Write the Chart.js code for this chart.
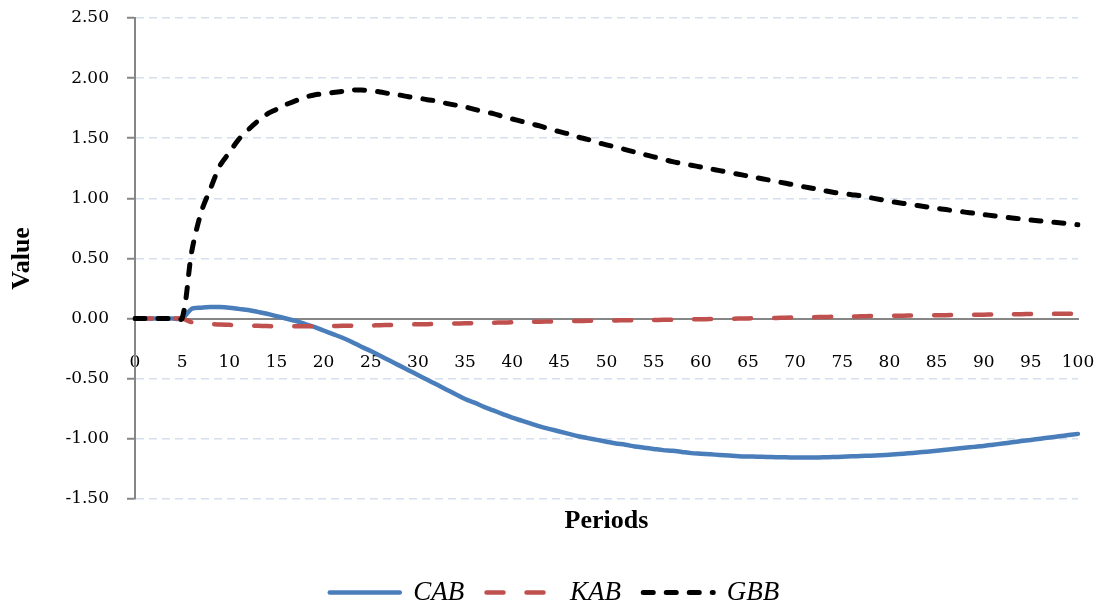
<!DOCTYPE html>
<html>
<head>
<meta charset="utf-8">
<script src="https://cdn.jsdelivr.net/npm/chart.js@4/dist/chart.umd.min.js"></script>
<style>
  html, body { margin:0; padding:0; background:#fff; }
  #wrap { width:1101px; height:601px; }
</style>
</head>
<body>
<div id="wrap"><canvas id="chart" width="1101" height="601"></canvas></div>
<script>
// periods 0..100
const periods = Array.from({length:101}, (_, i) => i);

const cab = [
  0, 0, 0, 0, 0, 0, 0.08, 0.09, 0.095, 0.095,
  0.09, 0.08, 0.07, 0.055, 0.04, 0.02, 0.00, -0.02, -0.045, -0.07,
  -0.10, -0.13, -0.16, -0.195, -0.235, -0.27, -0.31, -0.35, -0.39, -0.43,
  -0.47, -0.51, -0.55, -0.59, -0.63, -0.67, -0.70, -0.735, -0.765, -0.795,
  -0.825, -0.85, -0.875, -0.90, -0.92, -0.94, -0.96, -0.98, -0.995, -1.01,
  -1.025, -1.04, -1.05, -1.065, -1.075, -1.085, -1.095, -1.10, -1.11, -1.12,
  -1.125, -1.13, -1.135, -1.14, -1.145, -1.148, -1.15, -1.152, -1.154, -1.155,
  -1.156, -1.156, -1.156, -1.155, -1.153, -1.15, -1.147, -1.144, -1.141, -1.138,
  -1.134, -1.128, -1.122, -1.115, -1.108, -1.10, -1.092, -1.084, -1.076, -1.068,
  -1.06, -1.05, -1.04, -1.03, -1.02, -1.01, -1.00, -0.99, -0.98, -0.97,
  -0.96
];
const kab = [
  0, 0, 0, 0, 0, 0, -0.03, -0.04, -0.045, -0.05,
  -0.053, -0.056, -0.059, -0.061, -0.063, -0.064, -0.065, -0.065, -0.065, -0.064,
  -0.063, -0.062, -0.061, -0.06, -0.059, -0.058, -0.056, -0.054, -0.052, -0.05,
  -0.048, -0.047, -0.045, -0.043, -0.042, -0.04, -0.038, -0.037, -0.035, -0.033,
  -0.032, -0.03, -0.028, -0.027, -0.025, -0.024, -0.022, -0.021, -0.019, -0.018,
  -0.017, -0.016, -0.015, -0.014, -0.013, -0.012, -0.011, -0.01, -0.009, -0.007,
  -0.006, -0.005, -0.003, -0.002, -0.001, 0.001, 0.002, 0.004, 0.005, 0.007,
  0.008, 0.01, 0.011, 0.013, 0.014, 0.016, 0.017, 0.018, 0.02, 0.021,
  0.022, 0.023, 0.024, 0.025, 0.026, 0.027, 0.028, 0.029, 0.03, 0.031,
  0.032, 0.033, 0.034, 0.035, 0.036, 0.037, 0.037, 0.038, 0.039, 0.039,
  0.04
];
const gbb = [
  0, 0, 0, 0, 0, 0, 0.55, 0.88, 1.08, 1.27,
  1.38, 1.49, 1.57, 1.64, 1.70, 1.74, 1.78, 1.81, 1.84, 1.86,
  1.87, 1.88, 1.89, 1.90, 1.90, 1.895, 1.885, 1.87, 1.86, 1.845,
  1.835, 1.82, 1.81, 1.79, 1.775, 1.76, 1.74, 1.72, 1.705, 1.68,
  1.66, 1.64, 1.62, 1.60, 1.575, 1.555, 1.535, 1.51, 1.49, 1.465,
  1.445, 1.425, 1.405, 1.385, 1.365, 1.345, 1.325, 1.305, 1.29, 1.275,
  1.26, 1.245, 1.23, 1.215, 1.20, 1.185, 1.17, 1.155, 1.14, 1.125,
  1.11, 1.095, 1.08, 1.065, 1.05, 1.04, 1.03, 1.02, 1.005, 0.99,
  0.975, 0.963, 0.951, 0.94, 0.928, 0.917, 0.906, 0.895, 0.885, 0.875,
  0.865, 0.855, 0.846, 0.837, 0.828, 0.82, 0.812, 0.804, 0.796, 0.788,
  0.78
];
const yTicks = { min: -1.5, max: 2.5, step: 0.5 };

const tickFont = { family: 'DejaVu Serif', size: 17 };
const grey = '#868686';

new Chart(document.getElementById('chart').getContext('2d'), {
  type: 'line',
  data: {
    labels: periods,
    datasets: [
      { label:'CAB', data:cab, borderColor:'#4a7ebb', backgroundColor:'#4a7ebb', borderWidth:4.5,
        borderCapStyle:'round', pointRadius:0, pointStyle:'line', tension:0.3, order:3 },
      { label:'KAB', data:kab, borderColor:'#c0504d', backgroundColor:'#c0504d', borderWidth:4.5,
        borderDash:[17,23], borderCapStyle:'round', pointRadius:0, pointStyle:'line', tension:0.3, order:2 },
      { label:'GBB', data:gbb, borderColor:'#000000', backgroundColor:'#000000', borderWidth:5,
        borderDash:[10,13], borderCapStyle:'round', pointRadius:0, pointStyle:'line', tension:0.3, order:1 }
    ]
  },
  options: {
    responsive:false, animation:false,
    layout:{ padding:{ top:18, left:31, right:23, bottom:-15 } },
    plugins:{
      tooltip:{ enabled:false },
      title:{ display:true, text:'Periods', position:'bottom', weight:500, fullSize:false, color:'#000',
        font:{ family:'Liberation Serif', size:26, weight:'bold' }, padding:{ top:7, bottom:40 } },
      legend:{ position:'bottom',
        labels:{ usePointStyle:true, pointStyle:'line', pointStyleWidth:70, boxHeight:24, padding:2, color:'#000',
          font:{ family:'Liberation Serif', size:27, style:'italic' },
          generateLabels: chart => {
            const items = Chart.defaults.plugins.legend.labels.generateLabels(chart);
            const last = chart.data.datasets.length - 1;
            items.forEach(it => {
              const ds = chart.data.datasets[it.datasetIndex];
              it.lineDash = ds.borderDash || [];
              it.lineWidth = ds.borderWidth;
              it.lineCap = 'round';
              it.strokeStyle = ds.borderColor;
              it.text = it.datasetIndex === last ? ds.label : ds.label + '   ';
            });
            return items;
          },
          sort:(a,b)=>a.datasetIndex-b.datasetIndex } }
    },
    scales:{
      x:{ type:'category', position:{ y:0 },
        grid:{ display:false },
        border:{ display:true, color:grey, width:2 },
        ticks:{ autoSkip:false, maxRotation:0, padding:26, color:'#000', font:tickFont,
          callback:(v,i)=> i % 5 === 0 ? String(periods[i]) : '' },
        afterFit:s => { s.paddingLeft = 0; s.paddingRight = 0; s.paddingTop = 0; s.paddingBottom = 0; } },
      y:{ min:yTicks.min, max:yTicks.max,
        ticks:{ stepSize:yTicks.step, padding:18, color:'#000', font:tickFont,
          callback:v => v.toFixed(2) },
        grid:{ color:'#d5dfee', lineWidth:1.5, tickColor:grey, tickLength:8, tickWidth:2, tickBorderDash:[] },
        border:{ dash:[8,5], color:grey, width:2 },
        title:{ display:true, text:'Value', color:'#000', padding:{ top:-24, bottom:0 },
          font:{ family:'Liberation Serif', size:26, weight:'bold' } },
        afterFit:s => { s.width = 104; s.paddingTop = 0; s.paddingBottom = 0; } }
    }
  }
});
</script>
</body>
</html>
